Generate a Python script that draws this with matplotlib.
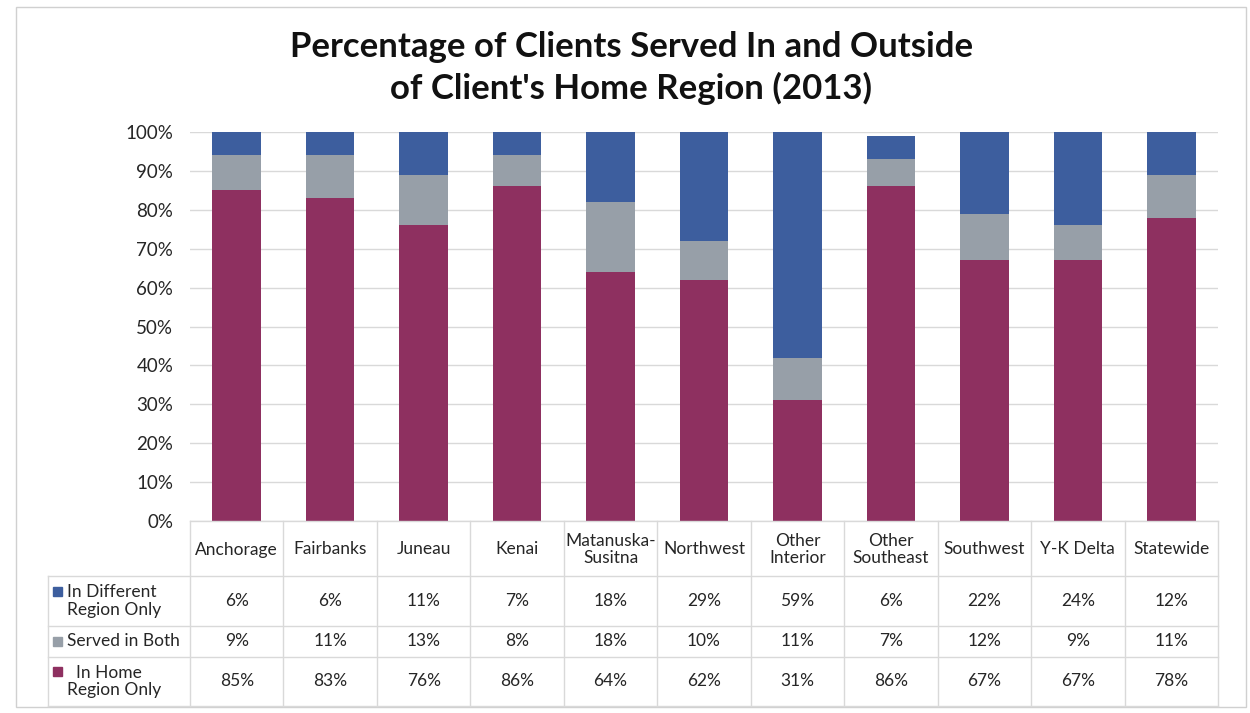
import matplotlib.pyplot as plt
from matplotlib.patches import Rectangle
import numpy as np

plt.rcParams['font.family'] = ['Lato', 'DejaVu Sans']

regions = ['Anchorage', 'Fairbanks', 'Juneau', 'Kenai', 'Matanuska-\nSusitna', 'Northwest',
           'Other\nInterior', 'Other\nSoutheast', 'Southwest', 'Y-K Delta', 'Statewide']
different = [6, 6, 11, 7, 18, 29, 59, 6, 22, 24, 12]
both = [9, 11, 13, 8, 18, 10, 11, 7, 12, 9, 11]
home = [85, 83, 76, 86, 64, 62, 31, 86, 67, 67, 78]

c_diff = '#3D5E9E'
c_both = '#979FA8'
c_home = '#8E3060'
grid_c = '#D9D9D9'

W, H = 1250, 713
fig = plt.figure(figsize=(12.5, 7.13), dpi=100)
fig.patches.append(Rectangle((16 / W, 6 / H), 1230 / W, 700 / H, transform=fig.transFigure,
                             fill=False, edgecolor='#D0D0D0', lw=1))

x0, x1 = 190, 1218
ytop, ybot = 132, 521
ax = fig.add_axes([x0 / W, 1 - ybot / H, (x1 - x0) / W, (ybot - ytop) / H])

x = np.arange(len(regions))
bw = 0.52
ax.bar(x, home, bw, color=c_home, zorder=3)
ax.bar(x, both, bw, bottom=home, color=c_both, zorder=3)
ax.bar(x, different, bw, bottom=np.array(home) + np.array(both), color=c_diff, zorder=3)

ax.set_xlim(-0.5, len(regions) - 0.5)
ax.set_ylim(0, 100)
ax.set_yticks(range(0, 101, 10))
ax.set_yticklabels([f'{v}%' for v in range(0, 101, 10)], fontsize=13.5, color='#262626')
ax.set_xticks([])
ax.yaxis.grid(True, color=grid_c, lw=1, zorder=0)
for s in ax.spines.values():
    s.set_visible(False)
ax.tick_params(axis='y', length=0, pad=12)

fig.text(0.505, 1 - 47 / H, 'Percentage of Clients Served In and Outside', ha='center', va='center',
         fontsize=25, fontweight='bold', color='#111111')
fig.text(0.505, 1 - 88 / H, "of Client's Home Region (2013)", ha='center', va='center',
         fontsize=25, fontweight='bold', color='#111111')

# data table below the axes, drawn in pixel coordinates
def fx(px):
    return px / W

def fy(py):
    return 1 - py / H

rows_y = [521, 576, 626, 657, 706]
lab_x = 48
colw = (x1 - x0) / len(regions)

def hline(py, xa, xb):
    fig.add_artist(plt.Line2D([fx(xa), fx(xb)], [fy(py), fy(py)], color=grid_c, lw=1))

def vline(px, ya, yb):
    fig.add_artist(plt.Line2D([fx(px), fx(px)], [fy(ya), fy(yb)], color=grid_c, lw=1))

hline(rows_y[0], x0, x1)
for py in rows_y[1:]:
    hline(py, lab_x, x1)
for k in range(len(regions) + 1):
    vline(x0 + k * colw, rows_y[0], rows_y[-1])
vline(lab_x, rows_y[1], rows_y[-1])

tfs = 12.5
for k, name in enumerate(regions):
    cx = x0 + (k + 0.5) * colw
    fig.text(fx(cx), fy((rows_y[0] + rows_y[1]) / 2 + 1), name, ha='center', va='center',
             fontsize=tfs, color='#262626', linespacing=1.05)
    for r, vals in enumerate([different, both, home]):
        cy = (rows_y[r + 1] + rows_y[r + 2]) / 2
        fig.text(fx(cx), fy(cy), f'{vals[k]}%', ha='center', va='center', fontsize=tfs, color='#262626')

labels = ['In Different\nRegion Only', 'Served in Both', '  In Home\nRegion Only']
colors = [c_diff, c_both, c_home]
for r in range(3):
    cy = (rows_y[r + 1] + rows_y[r + 2]) / 2
    nl = labels[r].count('\n') + 1
    sq_y = cy - 10 if nl > 1 else cy
    fig.patches.append(Rectangle((fx(53), fy(sq_y + 4.5)), 9 / W, 9 / H, transform=fig.transFigure,
                                 color=colors[r]))
    fig.text(fx(67), fy(cy), labels[r], ha='left', va='center', fontsize=tfs, color='#262626',
             linespacing=1.1, multialignment='left')

fig.savefig('out.png', dpi=100)
